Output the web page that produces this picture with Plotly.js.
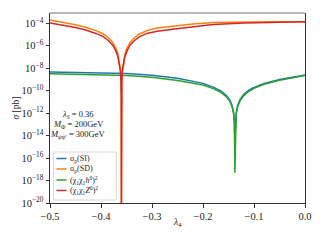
<!DOCTYPE html>
<html>
<head>
<meta charset="utf-8">
<script src="https://cdn.plot.ly/plotly-3.0.1.min.js"></script>
<style>html,body{margin:0;padding:0;background:#fff;}#chart{width:320px;height:240px;}</style>
</head>
<body>
<div id="chart"></div>
<script>
// lambda_4 grid for the SI / h0 curves
var lamSI = [-0.5,-0.45,-0.4,-0.35,-0.3,-0.25,-0.2,-0.18,-0.165,-0.155,-0.148,-0.143,-0.14,-0.1385,-0.1375,-0.1365,-0.135,-0.132,-0.127,-0.12,-0.11,-0.1,-0.08,-0.05,-0.02,0.0];
var sigmaSI = [4.7e-9,4.4e-9,4.0e-9,3.4e-9,2.4e-9,1.3e-9,4.5e-10,2.1e-10,9.5e-11,4.2e-11,1.7e-11,5.0e-12,1.1e-12,1.8e-13,2.5e-15,1.6e-13,1.0e-12,5.0e-12,1.8e-11,4.8e-11,1.1e-10,2.0e-10,4.5e-10,1.0e-9,1.8e-9,2.45e-9];
var coupH = [3.3e-9,3.0e-9,2.7e-9,2.24e-9,1.55e-9,8.3e-10,3.16e-10,1.55e-10,7.2e-11,3.16e-11,1.26e-11,3.8e-12,8.5e-13,1.35e-13,5e-18,1.2e-13,7.6e-13,3.8e-12,1.35e-11,3.7e-11,8.9e-11,1.62e-10,3.7e-10,8.7e-10,1.58e-9,2.24e-9];
// lambda_4 grid for the SD / Z0 curves
var lamSD = [-0.5,-0.47,-0.45,-0.43,-0.41,-0.395,-0.385,-0.377,-0.371,-0.367,-0.364,-0.362,-0.3608,-0.3603,-0.36,-0.3597,-0.3592,-0.358,-0.356,-0.353,-0.349,-0.343,-0.335,-0.325,-0.31,-0.29,-0.26,-0.22,-0.18,-0.12,-0.06,0.0];
var sigmaSD = [1.95e-4,1.12e-4,7.6e-5,4.5e-5,2.24e-5,1.12e-5,5.0e-6,2.0e-6,6.3e-7,2.0e-7,5.0e-8,1.0e-8,1.0e-9,3.2e-11,1e-21,3.2e-11,1.0e-9,1.0e-8,5.0e-8,2.0e-7,6.3e-7,2.0e-6,5.0e-6,1.12e-5,2.24e-5,3.8e-5,5.6e-5,8.9e-5,1.17e-4,1.32e-4,1.38e-4,1.41e-4];
var coupZ = [1.1e-4,6.3e-5,4.3e-5,2.5e-5,1.26e-5,6.3e-6,2.8e-6,1.12e-6,3.5e-7,1.12e-7,2.8e-8,5.6e-9,5.6e-10,1.8e-11,1e-21,1.8e-11,5.6e-10,5.6e-9,2.8e-8,1.12e-7,3.5e-7,1.12e-6,2.8e-6,6.3e-6,1.26e-5,2.0e-5,2.95e-5,5.0e-5,7.9e-5,1.07e-4,1.26e-4,1.38e-4];

var names = ['σ<sub>p</sub>(SI)','σ<sub>p</sub>(SD)','(χ<sub>1</sub>χ<sub>1</sub><i>h</i><sup>0</sup>)<sup>2</sup>','(χ<sub>1</sub>χ<sub>1</sub><i>Z</i><sup>0</sup>)<sup>2</sup>'];
var colors = ['#1f77b4','#ff7f0e','#2ca02c','#d62728'];

var xTickVals = [-0.5,-0.4,-0.3,-0.2,-0.1,0.0];
var xTickText = ['−0.5','−0.4','−0.3','−0.2','−0.1','0.0'];
var yTickVals = [1e-20,1e-18,1e-16,1e-14,1e-12,1e-10,1e-8,1e-6,1e-4];
var yTickText = ['10<sup>−20</sup>','10<sup>−18</sup>','10<sup>−16</sup>','10<sup>−14</sup>','10<sup>−12</sup>','10<sup>−10</sup>','10<sup>−8</sup>','10<sup>−6</sup>','10<sup>−4</sup>'];

var FONT = 'Liberation Serif, DejaVu Serif, serif';

var traces = [
  {x: lamSI, y: sigmaSI, name: names[0], mode:'lines', line:{color:colors[0], width:1.5}},
  {x: lamSD, y: sigmaSD, name: names[1], mode:'lines', line:{color:colors[1], width:1.5}},
  {x: lamSI, y: coupH, name: names[2], mode:'lines', line:{color:colors[2], width:1.5}},
  {x: lamSD, y: coupZ, name: names[3], mode:'lines', line:{color:colors[3], width:1.5}}
];

// manual legend (compact like the reference)
function px2x(p){ return (p-49.5)/255.5; }
function px2y(p){ return (203-p)/190; }
var shapes = [
  {type:'line', xref:'paper', yref:'paper', x0:0, x1:1, y0:1, y1:1, line:{color:'#a0a0a0', width:1.5}},
  {type:'rect', xref:'paper', yref:'paper', x0:px2x(53), x1:px2x(116), y0:px2y(152), y1:px2y(200), line:{color:'#d8d8d8', width:1}, fillcolor:'rgba(255,255,255,0.85)'}
];
var annotations = [];
var legY = [158.5, 169, 180, 190.5];
for (var i=0;i<4;i++){
  shapes.push({type:'line', xref:'paper', yref:'paper', x0:px2x(56), x1:px2x(66), y0:px2y(legY[i]), y1:px2y(legY[i]), line:{color:colors[i], width:1.5}});
  annotations.push({xref:'paper', yref:'paper', x:px2x(68), y:px2y(legY[i]), xanchor:'left', yanchor:'middle', showarrow:false, text:names[i], font:{family:FONT, size:8, color:'#222'}});
}
var infoLines = ['<i>λ</i><sub><i>S</i></sub> = 0.36','<i>M</i><sub>Φ</sub> = 200GeV','<i>M</i><sub><i>ψψ</i>′</sub> = 300GeV'];
var infoY = [114, 124, 134];
for (var j=0;j<3;j++){
  annotations.push({xref:'paper', yref:'paper', x:px2x(78), y:px2y(infoY[j]), xanchor:'center', yanchor:'middle', showarrow:false, text:infoLines[j], font:{family:FONT, size:8.5, color:'#222'}});
}
annotations.push({xref:'paper', yref:'paper', x:px2x(177), y:px2y(223), xanchor:'center', yanchor:'middle', showarrow:false, text:'<i>λ</i><sub>4</sub>', font:{family:FONT, size:9.5, color:'#222'}});
annotations.push({xref:'paper', yref:'paper', x:px2x(15), y:px2y(108), xanchor:'center', yanchor:'middle', textangle:-90, showarrow:false, text:'<i>σ</i> [pb]', font:{family:FONT, size:9.5, color:'#222'}});

var layout = {
  width:320, height:240,
  margin:{l:49.5, r:15, t:13, b:37, pad:0},
  paper_bgcolor:'#fff', plot_bgcolor:'#fff',
  showlegend:false,
  font:{family:FONT, size:10, color:'#222'},
  xaxis:{range:[-0.5,0], tickvals:xTickVals, ticktext:xTickText, showgrid:false, zeroline:false,
         showline:true, linecolor:'#333', linewidth:1, ticks:'outside', ticklen:3.5, tickcolor:'#333',
         tickfont:{family:FONT, size:10.5, color:'#222'}},
  yaxis:{type:'log', range:[-20,-3.08], tickvals:yTickVals, ticktext:yTickText, showgrid:false, zeroline:false,
         showline:true, mirror:true, linecolor:'#333', linewidth:1, ticks:'outside', ticklen:3.5, tickcolor:'#333',
         tickfont:{family:FONT, size:10.5, color:'#222'}},
  shapes:shapes,
  annotations:annotations
};
Plotly.newPlot('chart', traces, layout, {staticPlot:true, displayModeBar:false});
</script>
</body>
</html>
